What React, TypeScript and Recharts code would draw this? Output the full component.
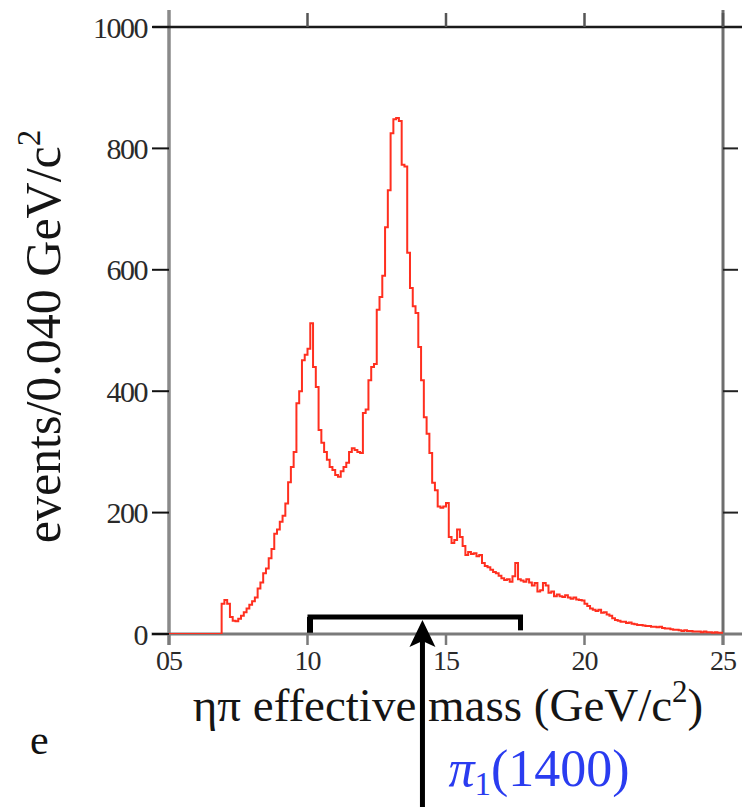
import React from "react";
import { LineChart, Line, XAxis, YAxis, ReferenceLine, ReferenceDot, Label } from "recharts";

// histogram bins: lower edge of first bin and bin width (GeV/c^2)
const firstEdge = 0.5;
const binWidth = 0.01;

// events per bin, bins starting at 0.50, 0.51, ... 2.49
const eventCounts = [
  0, 0, 0, 0, 0, 0, 0, 0, 0, 0,
  0, 0, 0, 0, 0, 0, 0, 0, 0, 50,
  56, 50, 28, 22, 21, 25, 30, 36, 42, 48,
  54, 60, 75, 85, 100, 108, 125, 140, 165, 172,
  185, 195, 215, 250, 275, 300, 380, 400, 451, 460,
  470, 512, 440, 407, 336, 315, 300, 287, 275, 270,
  262, 259, 268, 275, 282, 300, 306, 303, 300, 298,
  364, 370, 418, 440, 445, 534, 555, 590, 670, 731,
  825, 848, 850, 845, 773, 770, 628, 570, 540, 529,
  473, 418, 357, 330, 298, 249, 237, 210, 208, 210,
  216, 160, 150, 155, 172, 160, 145, 130, 135, 132,
  133, 128, 130, 117, 112, 110, 106, 102, 100, 96,
  92, 89, 90, 86, 95, 117, 90, 88, 86, 90,
  85, 80, 84, 70, 72, 84, 80, 68, 70, 62,
  65, 62, 61, 64, 60, 58, 60, 57, 56, 55,
  50, 46, 42, 40, 38, 40, 35, 36, 32, 30,
  26, 23, 22, 20, 20, 18, 19, 17, 16, 15,
  15, 14, 13, 13, 12, 12, 11, 12, 10, 9,
  9, 8, 7, 7, 6, 5, 6, 5, 5, 4,
  4, 4, 3, 4, 3, 3, 2, 3, 2, 2,
];

const xTickValues = [0.5, 1.0, 1.5, 2.0, 2.5];
const xTickLabels = ["05", "10", "15", "20", "25"];
const yTickValues = [0, 200, 400, 600, 800, 1000];
const yTickLabels = ["0", "200", "400", "600", "800", "1000"];

// annotation values
const bandStart = 1.009;
const bandEnd = 1.769;
const bandLevel = 28;
const arrowMass = 1.415;

const data = [
  ...eventCounts.map((v, i) => ({ m: +(firstEdge + i * binWidth).toFixed(2), v })),
  { m: +(firstEdge + eventCounts.length * binWidth).toFixed(2), v: eventCounts[eventCounts.length - 1] },
];

const SERIF = "'Liberation Serif', 'Times New Roman', serif";

const XTitle = (props: any) => {
  const vb = props.viewBox || {};
  const cx = vb.x + vb.width / 2;
  return (
    <text x={cx + 2} y={721} textAnchor="middle" fontFamily={SERIF} fontSize={47} fill="#151515">
      ηπ effective mass (GeV/c
      <tspan dy={-19} fontSize={31}>2</tspan>
      <tspan dy={19}>)</tspan>
    </text>
  );
};

const YTitle = (props: any) => {
  const vb = props.viewBox || {};
  const cy = vb.y + vb.height / 2 + 6;
  const x = 60;
  return (
    <text x={x} y={cy} textAnchor="middle" fontFamily={SERIF} fontSize={50} fill="#151515" transform={`rotate(-90 ${x} ${cy})`}>
      events/0.040 GeV/c
      <tspan dy={-20} fontSize={33}>2</tspan>
    </text>
  );
};

const ArrowHead = (p: any) => {
  const { cx, cy } = p;
  return <polygon points={`${cx},${cy} ${cx - 13},${cy + 27} ${cx},${cy + 21} ${cx + 13},${cy + 27}`} fill="#000" />;
};

const PiLabel = (p: any) => {
  const { cx, cy } = p;
  return (
    <text x={cx + 26} y={cy} fontFamily="'Liberation Serif', serif" fontSize={52} fill="#2a3cf0">
      <tspan fontStyle="italic">π</tspan>
      <tspan dy={9} fontSize={33}>1</tspan>
      <tspan dy={-9}>(1400)</tspan>
    </text>
  );
};

export default function App() {
  return (
    <div style={{ position: "absolute", left: 0, top: 0, width: 742, height: 808, background: "#fff" }}>
      <LineChart width={742} height={808} data={data} margin={{ top: 0, right: 0, bottom: 124, left: 109 }}>
        <XAxis
          xAxisId="b"
          type="number"
          dataKey="m"
          domain={[0.5, 2.5]}
          ticks={xTickValues}
          tickFormatter={(v: number) => xTickLabels[xTickValues.indexOf(v)] ?? ""}
          orientation="bottom"
          height={50}
          axisLine={false}
          tickLine={{ stroke: "#7a7a7a", strokeWidth: 2.5 }}
          tickSize={11}
          tickMargin={5}
          tick={{ fill: "#2a2a2a", fontSize: 28, fontFamily: SERIF, letterSpacing: -1 }}
          allowDataOverflow
        >
          <Label content={XTitle} />
        </XAxis>
        <XAxis
          xAxisId="t"
          type="number"
          dataKey="m"
          domain={[0.5, 2.5]}
          ticks={[1.0, 1.5, 2.0, 2.5]}
          tickFormatter={() => ""}
          orientation="top"
          height={27}
          axisLine={false}
          tickLine={{ stroke: "#555", strokeWidth: 2.5 }}
          tickSize={14}
          allowDataOverflow
        />
        <YAxis
          yAxisId="l"
          type="number"
          domain={[0, 1000]}
          ticks={yTickValues}
          tickFormatter={(v: number) => yTickLabels[yTickValues.indexOf(v)] ?? ""}
          width={60}
          axisLine={false}
          tickLine={{ stroke: "#111", strokeWidth: 2 }}
          tickSize={17}
          tickMargin={5}
          tick={{ fill: "#2a2a2a", fontSize: 30, fontFamily: SERIF, letterSpacing: -1.5 }}
          allowDataOverflow
        >
          <Label content={YTitle} />
        </YAxis>
        <YAxis
          yAxisId="r"
          orientation="right"
          type="number"
          domain={[0, 1000]}
          ticks={[200, 400, 600, 800]}
          tickFormatter={() => ""}
          width={19}
          axisLine={false}
          tickLine={{ stroke: "#222", strokeWidth: 2 }}
          tickSize={15}
          allowDataOverflow
        />

        {/* frame lines */}
        <ReferenceLine xAxisId="b" yAxisId="l" ifOverflow="visible" segment={[{ x: 0.5, y: -18 }, { x: 0.5, y: 1028 }]} stroke="#8a8a8a" strokeWidth={3.5} />
        <ReferenceLine xAxisId="b" yAxisId="l" ifOverflow="visible" segment={[{ x: 2.5, y: -18 }, { x: 2.5, y: 1028 }]} stroke="#6e6e6e" strokeWidth={3} />
        <ReferenceLine xAxisId="b" yAxisId="l" ifOverflow="visible" segment={[{ x: 0.437, y: 0 }, { x: 2.57, y: 0 }]} stroke="#7a7a7a" strokeWidth={3} />
        <ReferenceLine xAxisId="b" yAxisId="l" ifOverflow="visible" segment={[{ x: 0.44, y: 1000 }, { x: 2.57, y: 1000 }]} stroke="#1a1a1a" strokeWidth={2.5} />

        <Line
          xAxisId="b"
          yAxisId="l"
          type="stepAfter"
          dataKey="v"
          stroke="#ff2f1f"
          strokeWidth={2}
          dot={false}
          isAnimationActive={false}
        />

        {/* bracket */}
        <ReferenceLine xAxisId="b" yAxisId="l" ifOverflow="visible" segment={[{ x: bandStart, y: bandLevel }, { x: bandEnd, y: bandLevel }]} stroke="#000" strokeWidth={5} strokeLinecap="square" />
        <ReferenceLine xAxisId="b" yAxisId="l" ifOverflow="visible" segment={[{ x: bandStart, y: bandLevel }, { x: bandStart, y: 2 }]} stroke="#000" strokeWidth={6} />
        <ReferenceLine xAxisId="b" yAxisId="l" ifOverflow="visible" segment={[{ x: bandEnd, y: bandLevel }, { x: bandEnd, y: 6 }]} stroke="#000" strokeWidth={5} />

        {/* arrow */}
        <ReferenceLine xAxisId="b" yAxisId="l" ifOverflow="visible" segment={[{ x: arrowMass, y: -285 }, { x: arrowMass, y: 5 }]} stroke="#000" strokeWidth={5} />
        <ReferenceDot xAxisId="b" yAxisId="l" ifOverflow="visible" x={arrowMass} y={23} r={1} shape={ArrowHead} />
        <ReferenceDot xAxisId="b" yAxisId="l" ifOverflow="visible" x={arrowMass} y={-250} r={1} shape={PiLabel} />
      </LineChart>
      <div style={{ position: "absolute", left: 30, top: 716, fontFamily: SERIF, fontSize: 42, color: "#111" }}>e</div>
    </div>
  );
}
